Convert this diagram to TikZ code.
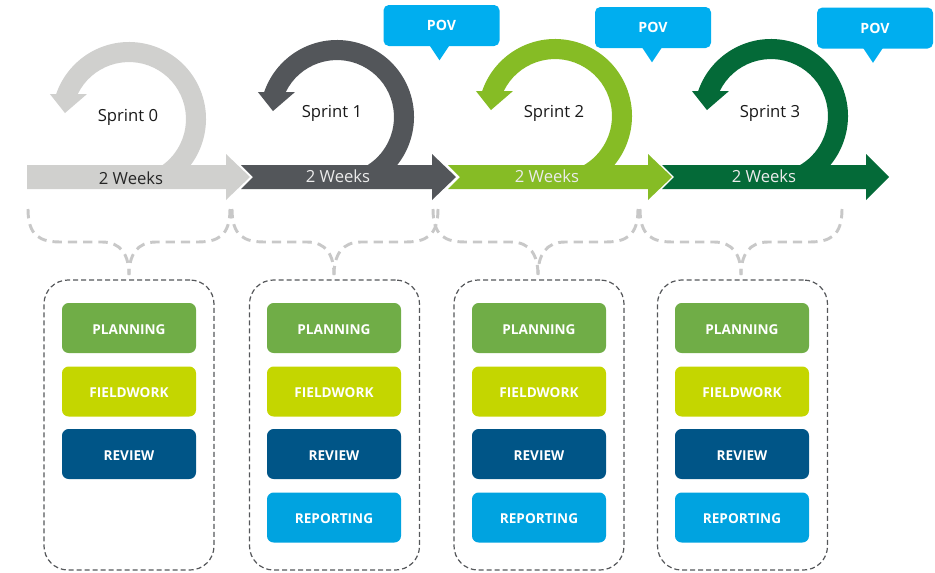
\documentclass[tikz,border=0pt]{standalone}
\usepackage{fontspec}
\setmainfont{Open Sans}
\definecolor{szero}{HTML}{D0D0CE}
\definecolor{sone}{HTML}{53565A}
\definecolor{stwo}{HTML}{86BC25}
\definecolor{sthree}{HTML}{046A38}
\definecolor{povblue}{HTML}{00AEEF}
\definecolor{plancol}{HTML}{70AD47}
\definecolor{fieldcol}{HTML}{C4D600}
\definecolor{reviewcol}{HTML}{005587}
\definecolor{reportcol}{HTML}{00A3E0}
\definecolor{bracegrey}{HTML}{C8C8C8}
\definecolor{dashgrey}{HTML}{55575A}
\newcommand\myring[3]{%
  \fill[#3] (#1,#2) ++(-62:77) arc[start angle=-62, end angle=161.1, radius=77]
    -- ++(-6.2,0) -- ++(15,-19) -- ++(22,19) -- ++(-9.2,0)
    arc[start angle=154, end angle=-62, radius=57] -- cycle;}
\newcommand\mybrace[3]{%
  \draw[brc] (#1,-209) .. controls (#1,-236) and ({#1+12},-242) .. ({#1+33},-242)
    -- ({#3-27},-242) .. controls ({#3-8},-242) and (#3,-255) .. (#3,-275);
  \draw[brc] (#2,-209) .. controls (#2,-236) and ({#2-12},-242) .. ({#2-33},-242)
    -- ({#3+27},-242) .. controls ({#3+8},-242) and (#3,-255) .. (#3,-275);}
\begin{document}
\begin{tikzpicture}[x=0.75pt,y=0.75pt,
  lbl/.style={font=\fontsize{12.5}{15}\selectfont, inner sep=0pt},
  task/.style={rounded corners=5pt, minimum width=100.5pt, minimum height=37.5pt,
    text=white, font=\bfseries\fontsize{10.2}{12}\selectfont, inner sep=0pt,
    text height=9.3pt, text depth=0pt},
  grp/.style={draw=dashgrey, dash pattern=on 3.75pt off 2.25pt, line width=0.9pt,
    rounded corners=18pt, minimum width=127.5pt, minimum height=217.5pt},
  brc/.style={line width=2.2pt, color=bracegrey, dash pattern=on 7pt off 4.5pt},
  pov/.style={fill=povblue, rounded corners=4pt, minimum width=87pt, minimum height=30.75pt,
    text=white, font=\bfseries\fontsize{10.6}{12}\selectfont, inner sep=0pt},
]
\useasboundingbox (0,0) rectangle (935,-572);

% rings
\myring{129}{-119}{szero}
\myring{337}{-117}{sone}
\myring{555}{-116}{stwo}
\myring{771}{-116}{sthree}

% band arrows
\fill[szero] (27,-165) -- (226,-165) -- (226,-154) -- (250,-177) -- (226,-200) -- (226,-189) -- (27,-189) -- cycle;
\fill[sone] (241,-165) -- (432,-165) -- (432,-154) -- (456,-177) -- (432,-200) -- (432,-189) -- (241,-189) -- (253,-177) -- cycle;
\fill[stwo] (448,-165) -- (648,-165) -- (648,-154) -- (672,-177) -- (648,-200) -- (648,-189) -- (448,-189) -- (460,-177) -- cycle;
\fill[sthree] (662,-165) -- (866,-165) -- (866,-154) -- (889,-177) -- (866,-200) -- (866,-189) -- (662,-189) -- (674,-177) -- cycle;

% labels
\node[lbl, text=black!90] (sp0) at (128,-117) {Sprint 0};
\node[lbl, text=black!90] (sp1) at (332,-113) {Sprint 1};
\node[lbl, text=black!90] (sp2) at (554,-113) {Sprint 2};
\node[lbl, text=black!90] (sp3) at (770,-113) {Sprint 3};
\node[lbl, text=black!85] (w0) at (131,-178) {2 Weeks};
\node[lbl, text=white!92!black] (w1) at (338,-176) {2 Weeks};
\node[lbl, text=white!92!black] (w2) at (547,-176) {2 Weeks};
\node[lbl, text=white!92!black] (w3) at (764,-176) {2 Weeks};

% POV callouts
\node[pov] (pov1) at (441.5,-25.5) {POV};
\node[pov] (pov2) at (653,-27.5) {POV};
\node[pov] (pov3) at (875,-28) {POV};
\fill[povblue] (pov1.south) ++(-12,1) -- ++(20,0) -- ++(-10,-15) -- cycle;
\fill[povblue] (pov2.south) ++(-11,1) -- ++(20,0) -- ++(-10,-15) -- cycle;
\fill[povblue] (pov3.south) ++(-12,1) -- ++(20,0) -- ++(-10,-15) -- cycle;

% braces
\mybrace{28}{230}{129}
\mybrace{232}{438}{334}
\mybrace{433}{638}{538}
\mybrace{640}{842}{741}

% group boxes
\node[grp] (g0) at (129,-425) {};
\node[grp] (g1) at (334.5,-425) {};
\node[grp] (g2) at (539,-425) {};
\node[grp] (g3) at (742.5,-425) {};

% tasks
\node[task, fill=plancol] (pl0) at (129,-328) {PLANNING};
\node[task, fill=fieldcol] (fw0) at (129,-391.5) {FIELDWORK};
\node[task, fill=reviewcol] (rv0) at (129,-454) {REVIEW};

\node[task, fill=plancol] (pl1) at (334,-328) {PLANNING};
\node[task, fill=fieldcol] (fw1) at (334,-391.5) {FIELDWORK};
\node[task, fill=reviewcol] (rv1) at (334,-454) {REVIEW};
\node[task, fill=reportcol] (rp1) at (334,-517.5) {REPORTING};

\node[task, fill=plancol] (pl2) at (539,-328) {PLANNING};
\node[task, fill=fieldcol] (fw2) at (539,-391.5) {FIELDWORK};
\node[task, fill=reviewcol] (rv2) at (539,-454) {REVIEW};
\node[task, fill=reportcol] (rp2) at (539,-517.5) {REPORTING};

\node[task, fill=plancol] (pl3) at (742,-328) {PLANNING};
\node[task, fill=fieldcol] (fw3) at (742,-391.5) {FIELDWORK};
\node[task, fill=reviewcol] (rv3) at (742,-454) {REVIEW};
\node[task, fill=reportcol] (rp3) at (742,-517.5) {REPORTING};
\end{tikzpicture}
\end{document}
